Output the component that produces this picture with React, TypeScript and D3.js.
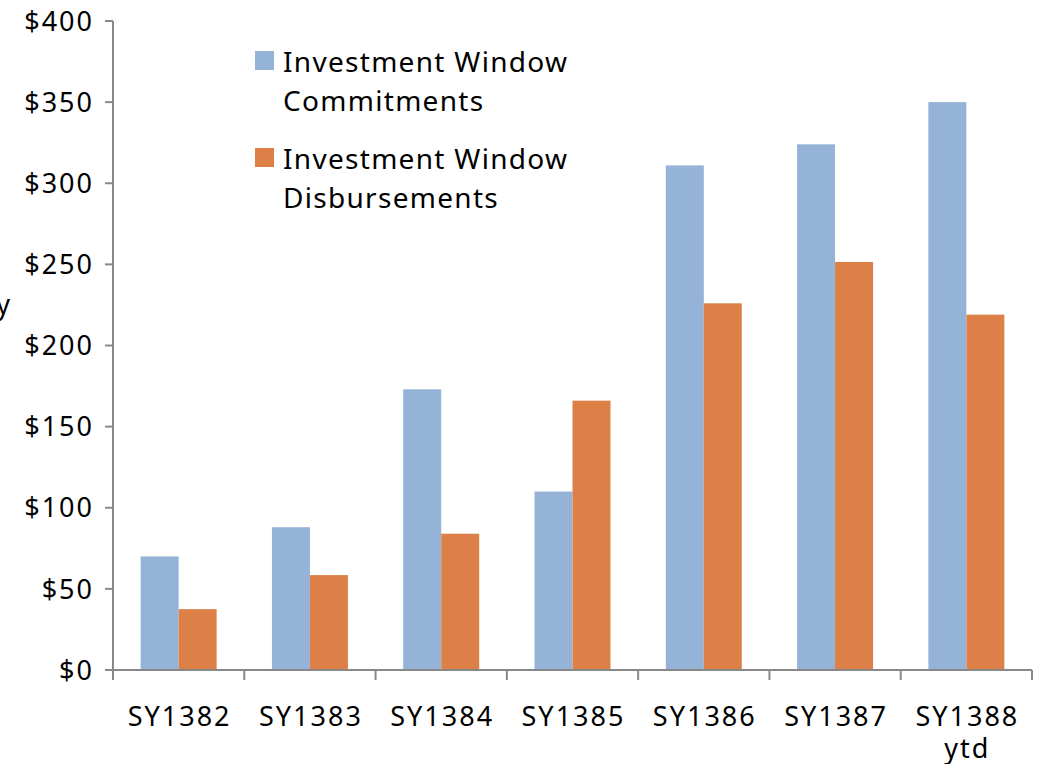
import * as d3 from "d3";
import React from "react";

const categories = ["SY1382", "SY1383", "SY1384", "SY1385", "SY1386", "SY1387", "SY1388 ytd"];
const commitments = [70, 88, 173, 110, 311, 324, 350];
const disbursements = [37.5, 58.5, 84, 166, 226, 251.5, 219];
const yTicks = [0, 50, 100, 150, 200, 250, 300, 350, 400];
const seriesNames = ["Investment Window Commitments", "Investment Window Disbursements"];
const colors = ["#95B3D7", "#DD8047"];

const W = 1040;
const H = 764;
const font = "'Noto Sans', 'DejaVu Sans', sans-serif";

export default function App() {
  const margin = { left: 113, right: 8, top: 21, bottom: 94 };
  const x = d3
    .scaleBand<string>()
    .domain(categories)
    .range([margin.left, W - margin.right])
    .padding(0);
  const y = d3
    .scaleLinear()
    .domain([0, 400])
    .range([H - margin.bottom, margin.top]);
  const barW = 38;
  const series = [commitments, disbursements];

  return (
    <svg
      width={W}
      height={H}
      style={{ position: "absolute", left: 0, top: 0, background: "#fff" }}
      fontFamily={font}
    >
      {/* clipped axis title fragment */}
      <text x={10} y={314} fontSize={27} textAnchor="end" fill="#000">
        y
      </text>

      {/* bars */}
      {series.map((vals, si) => (
        <g key={si} fill={colors[si]}>
          {vals.map((v, i) => {
            const cx = x(categories[i])! + x.bandwidth() / 2;
            return (
              <rect
                key={i}
                x={cx - barW + si * barW}
                y={y(v)}
                width={barW}
                height={y(0) - y(v)}
              />
            );
          })}
        </g>
      ))}

      {/* axes */}
      <g stroke="#888" strokeWidth={2}>
        <line x1={margin.left} x2={margin.left} y1={y(400)} y2={y(0) + 10} />
        {yTicks.map((t) => (
          <line key={t} x1={margin.left - 8} x2={margin.left} y1={y(t)} y2={y(t)} />
        ))}
        <line x1={margin.left - 8} x2={W - margin.right} y1={y(0)} y2={y(0)} />
        {categories.map((c) => (
          <line key={c} x1={x(c)!} x2={x(c)!} y1={y(0)} y2={y(0) + 10} />
        ))}
        <line x1={W - margin.right} x2={W - margin.right} y1={y(0)} y2={y(0) + 10} />
      </g>
      {yTicks.map((t) => (
        <text
          key={t}
          x={94}
          y={y(t)}
          dy="0.36em"
          fontSize={27}
          letterSpacing={2}
          textAnchor="end"
          fill="#000"
        >
          {"$" + t}
        </text>
      ))}

      {/* x labels */}
      {categories.map((c) => {
        const parts = c.split(" ");
        const cx = x(c)! + x.bandwidth() / 2 + 1;
        return (
          <text
            key={c}
            x={cx}
            y={726}
            fontSize={27}
            letterSpacing={2}
            textAnchor="middle"
            fill="#000"
          >
            {parts.map((p, k) => (
              <tspan key={k} x={cx} dy={k === 0 ? 0 : 32}>
                {p}
              </tspan>
            ))}
          </text>
        );
      })}

      {/* legend */}
      {seriesNames.map((name, i) => {
        const top = 51 + i * 97;
        const words = name.split(" ");
        return (
          <g key={name}>
            <rect x={255} y={top} width={19} height={19} fill={colors[i]} />
            <text x={283} y={top + 21} fontSize={28} letterSpacing={1.3} fill="#000">
              <tspan x={283}>{words.slice(0, 2).join(" ")}</tspan>
              <tspan x={283} dy={39}>
                {words.slice(2).join(" ")}
              </tspan>
            </text>
          </g>
        );
      })}
    </svg>
  );
}
